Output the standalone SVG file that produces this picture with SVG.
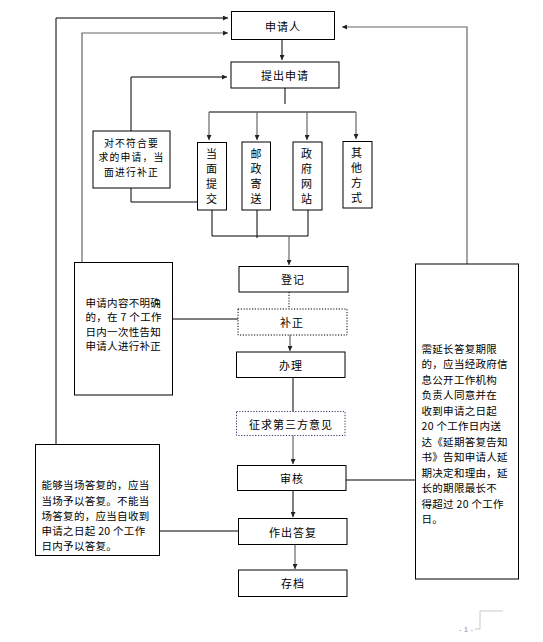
<svg xmlns="http://www.w3.org/2000/svg" width="543" height="642" viewBox="0 0 543 642">
<style>
.box{fill:#fff;stroke:#000;stroke-width:1}
.dot{fill:#fff;stroke:#000;stroke-width:1;stroke-dasharray:1.2 1.6}
.dotp{fill:#fff;stroke:#33336a;stroke-width:1;stroke-dasharray:1.2 1.6}
.t{font-family:"Noto Sans CJK SC","Liberation Sans",sans-serif;font-size:11px;fill:#000;text-anchor:middle;dominant-baseline:central;letter-spacing:1px}
.ts{font-family:"Noto Sans CJK SC","Liberation Sans",sans-serif;font-size:9.8px;fill:#000;text-anchor:middle;dominant-baseline:central;letter-spacing:1.2px}
.tl{font-family:"Noto Sans CJK SC","Liberation Sans",sans-serif;font-size:10.5px;fill:#000;dominant-baseline:central;letter-spacing:0.3px}
.ln{fill:none;stroke:#000;stroke-width:1}
.lg{fill:none;stroke:#666;stroke-width:1.2}
.pg{fill:none;stroke:#bbb;stroke-width:0.8}
</style>
<defs>
<marker id="ah" viewBox="0 0 8 8" refX="8" refY="4" markerWidth="5" markerHeight="5" orient="auto" markerUnits="userSpaceOnUse">
<path d="M0,0 L8,4 L0,8 Z" fill="#222"/>
</marker>
</defs>
<g id="connectors">
<polyline class="ln" points="56,444 56,18 228,18" marker-end="url(#ah)"/>
<polyline class="lg" points="82,262 82,33 228,33" marker-end="url(#ah)"/>
<polyline class="ln" points="131,131 131,77 227,77" marker-end="url(#ah)"/>
<line class="ln" x1="282" y1="39" x2="282" y2="60" marker-end="url(#ah)"/>
<line class="ln" x1="285" y1="88" x2="285" y2="104"/>
<line class="ln" x1="209" y1="112" x2="356" y2="112"/>
<line class="lg" x1="209" y1="112" x2="209" y2="140" marker-end="url(#ah)"/>
<line class="lg" x1="257" y1="112" x2="257" y2="140" marker-end="url(#ah)"/>
<line class="lg" x1="307" y1="112" x2="307" y2="140" marker-end="url(#ah)"/>
<line class="lg" x1="356" y1="112" x2="356" y2="139" marker-end="url(#ah)"/>
<polyline class="ln" points="131,188 131,202 197,202"/>
<polyline class="ln" points="212,210 212,236 308,236 308,210"/>
<line class="ln" x1="257" y1="210" x2="257" y2="238"/>
<line class="lg" x1="289" y1="236" x2="289" y2="265" marker-end="url(#ah)"/>
<line class="ln" x1="289" y1="292" x2="289" y2="309" stroke-dasharray="1.2 1.6"/>
<line class="ln" x1="172" y1="319" x2="238" y2="319"/>
<line class="lg" x1="290" y1="335" x2="290" y2="351" marker-end="url(#ah)"/>
<line class="ln" x1="293" y1="378" x2="293" y2="412"/>
<line class="lg" x1="293" y1="435" x2="293" y2="464" marker-end="url(#ah)"/>
<line class="ln" x1="346" y1="480" x2="415" y2="480"/>
<line class="ln" x1="293" y1="491" x2="293" y2="517" marker-end="url(#ah)"/>
<line class="ln" x1="159" y1="531" x2="238" y2="531"/>
<line class="lg" x1="295" y1="544" x2="295" y2="569" stroke-width="1.8" marker-end="url(#ah)"/>
<polyline class="lg" points="467,264 467,27 342,27" marker-end="url(#ah)"/>
</g>
<g id="n-applicant"><rect class="box" x="231.5" y="11.5" width="103" height="28"/><text class="t" x="283" y="25.5">申请人</text></g>
<g id="n-submit"><rect class="box" x="231" y="62" width="108" height="26"/><text class="t" x="285" y="75">提出申请</text></g>
<g id="n-fix-onsite"><rect class="box" x="93" y="131" width="77" height="57"/>
<text class="ts" x="131.5" y="142.5">对不符合要</text>
<text class="ts" x="131.5" y="157">求的申请，当</text>
<text class="ts" x="131.5" y="171.5">面进行补正</text></g>
<g id="n-inperson"><rect class="box" x="197.5" y="142.5" width="29" height="67.5"/>
<text class="t" x="212" y="153">当</text><text class="t" x="212" y="168">面</text><text class="t" x="212" y="183">提</text><text class="t" x="212" y="198">交</text></g>
<g id="n-post"><rect class="box" x="242" y="142" width="28.5" height="68"/>
<text class="t" x="256.5" y="153">邮</text><text class="t" x="256.5" y="168">政</text><text class="t" x="256.5" y="183">寄</text><text class="t" x="256.5" y="198">送</text></g>
<g id="n-web"><rect class="box" x="293" y="142" width="29" height="68"/>
<text class="t" x="307" y="153">政</text><text class="t" x="307" y="168">府</text><text class="t" x="307" y="183">网</text><text class="t" x="307" y="198">站</text></g>
<g id="n-other"><rect class="box" x="343" y="141.5" width="29" height="66.5"/>
<text class="t" x="357" y="152">其</text><text class="t" x="357" y="167">他</text><text class="t" x="357" y="182">方</text><text class="t" x="357" y="197">式</text></g>
<g id="n-register"><rect class="box" x="239" y="266.5" width="109" height="25.5"/><text class="t" x="293" y="279">登记</text></g>
<g id="n-supplement"><rect class="dot" x="238" y="309" width="109" height="26"/><text class="t" x="292" y="322">补正</text></g>
<g id="n-handle"><rect class="box" x="236.5" y="352" width="108.5" height="25.5"/><text class="t" x="291" y="365">办理</text></g>
<g id="n-third"><rect class="dotp" x="236.5" y="411.5" width="108.5" height="24"/><text class="t" x="291" y="423.5">征求第三方意见</text></g>
<g id="n-review"><rect class="box" x="237.5" y="465.5" width="108.5" height="25"/><text class="t" x="292" y="478">审核</text></g>
<g id="n-reply"><rect class="box" x="238.5" y="518.5" width="108.5" height="26"/><text class="t" x="293" y="531.5">作出答复</text></g>
<g id="n-archive"><rect class="box" x="238.5" y="570" width="108.5" height="26.5"/><text class="t" x="293" y="583">存档</text></g>
<g id="n-unclear"><rect class="box" x="74.5" y="262.5" width="98" height="132.5"/>
<text class="tl" x="85.5" y="302">申请内容不明确</text>
<text class="tl" x="85.5" y="316.5">的，在 7 个工作</text>
<text class="tl" x="85.5" y="331">日内一次性告知</text>
<text class="tl" x="85.5" y="345.5">申请人进行补正</text></g>
<g id="n-onsite-reply"><rect class="box" x="35.5" y="444.5" width="124" height="111"/>
<text class="tl" x="41.5" y="484">能够当场答复的，应当</text>
<text class="tl" x="41.5" y="500">当场予以答复。不能当</text>
<text class="tl" x="41.5" y="515.5">场答复的，应当自收到</text>
<text class="tl" x="41.5" y="530.5">申请之日起 20 个工作</text>
<text class="tl" x="41.5" y="545.5">日内予以答复。</text></g>
<g id="n-extend"><rect class="box" x="415.5" y="264" width="103" height="315"/>
<text class="tl" x="421.5" y="348">需延长答复期限</text>
<text class="tl" x="421.5" y="363.5">的，应当经政府信</text>
<text class="tl" x="421.5" y="379">息公开工作机构</text>
<text class="tl" x="421.5" y="394.5">负责人同意并在</text>
<text class="tl" x="421.5" y="410">收到申请之日起</text>
<text class="tl" x="421.5" y="425.5">20 个工作日内送</text>
<text class="tl" x="421.5" y="441">达《延期答复告知</text>
<text class="tl" x="421.5" y="456.5">书》告知申请人延</text>
<text class="tl" x="421.5" y="472">期决定和理由，延</text>
<text class="tl" x="421.5" y="487.5">长的期限最长不</text>
<text class="tl" x="421.5" y="503">得超过 20 个工作</text>
<text class="tl" x="421.5" y="518.5">日。</text></g>
<g id="page-number">
<polyline class="pg" points="475,629 480,629 480,611 503,611"/>
<text x="466" y="629" font-family="Liberation Sans,sans-serif" font-size="8" fill="#999" text-anchor="middle" dominant-baseline="central">- 1 -</text>
</g>
</svg>
